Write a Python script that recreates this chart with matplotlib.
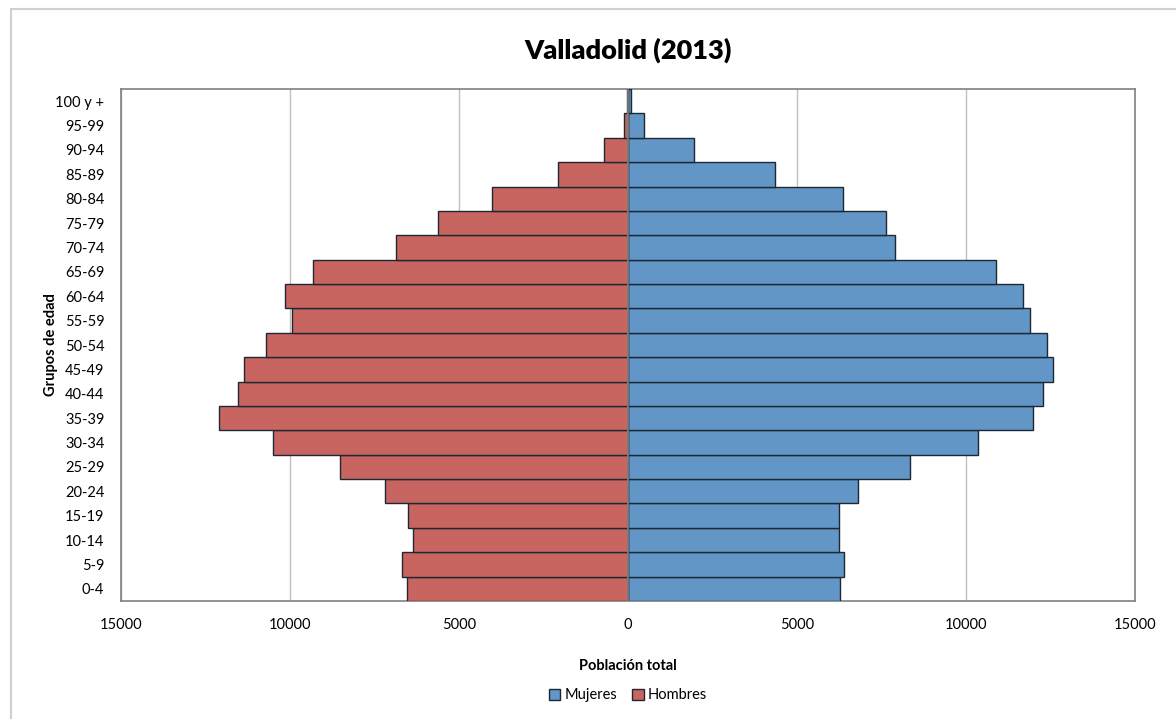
import matplotlib.pyplot as plt
from matplotlib.patches import Rectangle

plt.rcParams['font.family'] = ['Lato', 'DejaVu Sans']

# age groups, bottom to top
grupos = ['0-4', '5-9', '10-14', '15-19', '20-24', '25-29', '30-34', '35-39',
          '40-44', '45-49', '50-54', '55-59', '60-64', '65-69', '70-74',
          '75-79', '80-84', '85-89', '90-94', '95-99', '100 y +']
hombres = [6530, 6680, 6350, 6520, 7200, 8520, 10490, 12090, 11550, 11350,
           10720, 9950, 10135, 9315, 6865, 5635, 4010, 2078, 714, 132, 20]
mujeres = [6275, 6405, 6250, 6250, 6805, 8350, 10360, 11970, 12275, 12580,
           12395, 11890, 11675, 10890, 7900, 7620, 6360, 4350, 1958, 478, 78]

xticks = [-15000, -10000, -5000, 0, 5000, 10000, 15000]
xticklabels = ['15000', '10000', '5000', '0', '5000', '10000', '15000']

rojo = '#C96561'
azul = '#6196C7'
borde = '#1e2833'

fig = plt.figure(figsize=(11.76, 7.19), dpi=100)
ax = fig.add_axes([0.1029, 0.1641, 0.8622, 0.7121])

# outer chart frame
fig.patches.append(Rectangle((0.009, -0.01), 1.0, 0.998, transform=fig.transFigure,
                             fill=False, edgecolor='#d0d0d0', linewidth=1.5))

y = list(range(len(grupos)))
ax.barh(y, mujeres, height=1.0, color=azul, edgecolor=borde, linewidth=1.0,
        label='Mujeres', zorder=3)
ax.barh(y, [-h for h in hombres], height=1.0, color=rojo, edgecolor=borde,
        linewidth=1.0, label='Hombres', zorder=3)
ax.axvline(0, color='#808080', linewidth=1.2, zorder=4)

ax.set_xlim(-15000, 15000)
ax.set_ylim(-0.5, len(grupos) - 0.5)
ax.set_xticks(xticks)
ax.set_xticklabels(xticklabels)
ax.set_yticks(y)
ax.set_yticklabels(grupos)
ax.tick_params(axis='both', length=0, labelsize=10.5, colors='black')
ax.tick_params(axis='x', pad=12)
ax.tick_params(axis='y', pad=12)

ax.grid(axis='x', color='#c0c0c0', linewidth=1.0, zorder=0)
for s in ax.spines.values():
    s.set_color('#808080')
    s.set_linewidth(1.2)

ax.set_title('Valladolid (2013)', fontsize=19.5, fontweight='heavy', pad=22)
ax.set_xlabel('Población total', fontsize=10.5, fontweight='bold', labelpad=20)
ax.set_ylabel('Grupos de edad', fontsize=10.5, fontweight='bold', labelpad=-2)

ax.legend(loc='upper center', bbox_to_anchor=(0.5, -0.145), ncol=2, frameon=False,
          fontsize=10.5, handlelength=0.8, handleheight=0.8, handletextpad=0.3,
          columnspacing=1.0)

fig.savefig('out.png', dpi=100)
